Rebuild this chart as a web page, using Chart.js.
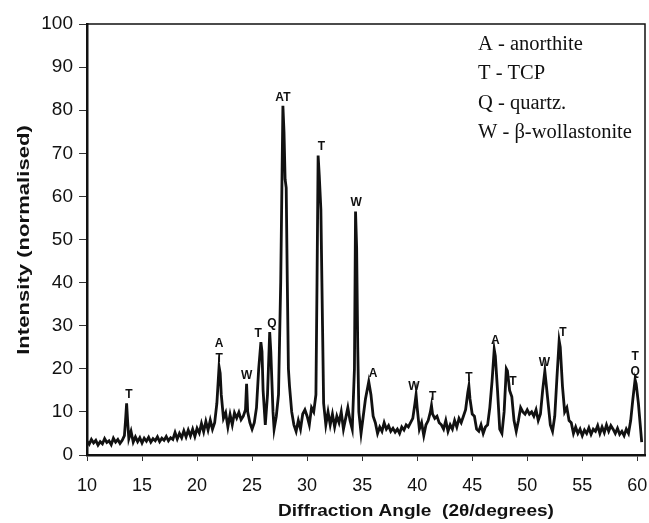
<!DOCTYPE html>
<html>
<head>
<meta charset="utf-8">
<title>XRD pattern</title>
<script src="https://cdn.jsdelivr.net/npm/chart.js@4"></script>
<style>
  body { margin: 0; background: #fff; }
  canvas { display: block; }
</style>
</head>
<body>
<canvas id="xrd" width="649" height="523"></canvas>
<script>
// 2θ (degrees) and normalised intensity
const angle = [
  10.0, 10.2, 10.4, 10.6, 10.8, 11.0, 11.2, 11.4, 11.6, 11.8,
  12.0, 12.2, 12.4, 12.6, 12.8, 13.0, 13.2, 13.4, 13.5, 13.6,
  13.7, 13.8, 14.0, 14.2, 14.4, 14.6, 14.8, 15.0, 15.2, 15.4,
  15.6, 15.8, 16.0, 16.2, 16.4, 16.6, 16.8, 17.0, 17.2, 17.4,
  17.6, 17.8, 18.0, 18.2, 18.4, 18.6, 18.8, 19.0, 19.2, 19.4,
  19.6, 19.8, 20.0, 20.2, 20.4, 20.6, 20.8, 21.0, 21.2, 21.4,
  21.6, 21.8, 22.0, 22.1, 22.2, 22.4, 22.6, 22.8, 23.0, 23.2,
  23.4, 23.6, 23.8, 24.0, 24.2, 24.4, 24.5, 24.6, 24.8, 25.0,
  25.2, 25.4, 25.6, 25.8, 25.9, 26.0, 26.2, 26.4, 26.6, 26.7,
  26.9, 27.0, 27.2, 27.4, 27.6, 27.8, 27.9, 28.0, 28.1, 28.2,
  28.3, 28.4, 28.6, 28.8, 29.0, 29.2, 29.4, 29.6, 29.8, 30.0,
  30.2, 30.4, 30.6, 30.8, 30.9, 31.0, 31.1, 31.25, 31.4, 31.5,
  31.7, 31.9, 32.1, 32.3, 32.5, 32.7, 32.9, 33.1, 33.3, 33.5,
  33.7, 33.9, 34.1, 34.3, 34.4, 34.5, 34.6, 34.7, 34.9, 35.1,
  35.3, 35.6, 35.8, 36.0, 36.2, 36.4, 36.6, 36.8, 37.0, 37.2,
  37.4, 37.6, 37.8, 38.0, 38.2, 38.4, 38.6, 38.8, 39.0, 39.2,
  39.4, 39.6, 39.8, 39.9, 40.0, 40.2, 40.4, 40.6, 40.8, 41.0,
  41.2, 41.3, 41.4, 41.6, 41.8, 42.0, 42.2, 42.4, 42.6, 42.8,
  43.0, 43.2, 43.4, 43.6, 43.8, 44.0, 44.2, 44.4, 44.6, 44.7,
  44.8, 45.0, 45.2, 45.4, 45.6, 45.8, 46.0, 46.2, 46.4, 46.6,
  46.8, 47.0, 47.1, 47.3, 47.5, 47.7, 47.9, 48.1, 48.2, 48.4,
  48.6, 48.8, 49.0, 49.2, 49.4, 49.6, 49.8, 50.0, 50.2, 50.4,
  50.6, 50.8, 51.0, 51.2, 51.4, 51.6, 51.7, 51.9, 52.1, 52.3,
  52.5, 52.7, 52.9, 53.0, 53.2, 53.4, 53.6, 53.8, 54.0, 54.2,
  54.4, 54.6, 54.8, 55.0, 55.2, 55.4, 55.6, 55.8, 56.0, 56.2,
  56.4, 56.6, 56.8, 57.0, 57.2, 57.4, 57.6, 57.8, 58.0, 58.2,
  58.4, 58.6, 58.8, 59.0, 59.2, 59.4, 59.6, 59.8, 59.9, 60.1,
  60.3, 60.4
];
const intensity = [
  3.2, 2.5, 3.6, 2.8, 3.4, 2.3, 3.1, 2.6, 3.8, 2.9,
  3.3, 2.4, 3.9, 3.0, 3.6, 2.7, 3.4, 4.5, 8.0, 12.0,
  7.5, 3.8, 5.5, 3.0, 4.2, 3.1, 4.0, 2.8, 3.9, 3.2,
  4.1, 3.0, 3.8, 3.3, 4.2, 3.1, 3.9, 3.4, 4.3, 3.3,
  4.0, 3.6, 5.2, 3.7, 5.0, 4.0, 5.6, 4.2, 5.8, 4.4,
  6.0, 4.3, 6.2, 5.1, 7.3, 5.4, 7.8, 5.8, 8.1, 6.0,
  7.5, 12.0, 20.5, 19.0, 14.0, 8.5, 9.8, 6.5, 9.4, 7.0,
  9.8, 8.6, 9.9, 8.2, 9.0, 10.5, 16.5, 10.0, 7.5, 6.0,
  7.5, 11.0, 20.0, 26.2, 24.0, 15.0, 7.0, 14.0, 28.5, 24.0,
  10.0, 6.0, 9.0, 14.0, 40.0, 81.0, 75.0, 64.0, 62.0, 40.0,
  20.0, 16.0, 10.0, 7.0, 5.5, 8.0, 6.0, 9.5, 10.5, 9.0,
  7.0, 11.0, 10.0, 14.0, 40.0, 69.5, 65.0, 57.0, 30.0, 12.0,
  7.0, 10.0, 7.0, 9.5, 6.5, 9.0, 7.5, 10.0, 6.0, 8.5,
  11.0, 8.0, 6.0, 20.0, 56.5, 48.0, 25.0, 10.0, 5.0, 9.0,
  13.0, 17.0, 14.0, 9.0, 7.5, 5.0, 6.5, 5.5, 7.5, 6.0,
  6.8, 5.5, 6.2, 5.3, 6.0, 5.0, 6.5, 5.8, 7.0, 6.5,
  7.5, 8.5, 12.0, 14.0, 11.0, 6.0, 7.5, 4.5, 7.0, 8.0,
  10.0, 11.5, 9.5, 8.5, 9.0, 7.5, 7.0, 6.0, 8.0, 5.5,
  7.0, 6.0, 8.0, 6.5, 8.5, 7.5, 9.0, 10.5, 14.5, 16.0,
  13.0, 9.5, 9.0, 6.0, 5.5, 7.0, 5.0, 6.5, 7.0, 11.0,
  17.0, 24.5, 23.0, 15.0, 6.0, 5.0, 10.0, 20.0, 19.5, 15.0,
  13.5, 8.0, 5.5, 8.0, 11.0, 10.0, 9.5, 10.5, 9.5, 10.0,
  9.0, 10.5, 8.0, 9.5, 15.0, 19.5, 17.0, 12.0, 7.0, 5.5,
  9.0, 18.0, 26.5, 25.0, 16.0, 10.0, 11.0, 8.0, 7.5, 5.0,
  6.5, 5.0, 6.0, 4.5, 5.8, 5.0, 6.3, 4.8, 6.0, 5.5,
  6.8, 5.0, 6.5, 5.2, 7.0, 5.5, 6.8, 6.0, 5.0, 6.2,
  4.8, 5.5, 4.5, 6.0, 5.0, 8.0, 13.0, 17.5, 16.5, 12.0,
  6.0, 3.0
];

// phase markers above the peaks
const peakAngles = [13.8, 22.0, 24.5, 25.55, 26.8, 27.8, 31.3, 34.45, 36.0,
  39.7, 41.4, 44.7, 47.1, 48.7, 51.55, 53.25, 59.8];
const peakLabels = ["T", "A\nT", "W", "T", "Q", "AT", "T", "W", "A",
  "W", "T", "T", "A", "T", "W", "T", "T\nQ"];

const legendLines = ["A - anorthite", "T - TCP", "Q - quartz.", "W - β-wollastonite"];

const xTicks = [10, 15, 20, 25, 30, 35, 40, 45, 50, 55, 60];
const yTicks = [0, 10, 20, 30, 40, 50, 60, 70, 80, 90, 100];

const xTitle = "Diffraction Angle  (2θ/degrees)";
const yTitle = "Intensity (normalised)";

const points = angle.map((a, i) => ({ x: a, y: intensity[i] }));

// 指定角度付近の最大強度
function peakHeight(at) {
  let best = 0;
  angle.forEach((a, i) => {
    if (Math.abs(a - at) <= 0.45 && intensity[i] > best) best = intensity[i];
  });
  return best;
}

const decorations = {
  id: "decorations",
  afterDraw(chart) {
    const { ctx, chartArea: area, scales } = chart;
    ctx.save();

    // frame (top and right sides)
    ctx.strokeStyle = "#111";
    ctx.lineWidth = 1.5;
    ctx.beginPath();
    ctx.moveTo(area.left, area.top);
    ctx.lineTo(area.right, area.top);
    ctx.lineTo(area.right, area.bottom);
    ctx.stroke();

    // peak letters
    ctx.fillStyle = "#111";
    ctx.font = "bold 12px 'Liberation Sans', Arial, sans-serif";
    ctx.textAlign = "center";
    ctx.textBaseline = "alphabetic";
    peakAngles.forEach((a, i) => {
      const px = scales.x.getPixelForValue(a);
      const top = scales.y.getPixelForValue(peakHeight(a));
      const lines = peakLabels[i].split("\n");
      lines.forEach((txt, j) => {
        const offset = (lines.length - 1 - j) * 15;
        ctx.fillText(txt, px, top - 5 - offset);
      });
    });

    // legend
    ctx.font = "20.5px 'Liberation Serif', 'Times New Roman', serif";
    ctx.textAlign = "left";
    legendLines.forEach((txt, i) => {
      ctx.fillText(txt, 478, 50 + i * 29.3);
    });

    // axis titles (the original lettering is stretched along the text)
    ctx.font = "bold 17px 'Liberation Sans', Arial, sans-serif";
    ctx.textAlign = "center";
    ctx.textBaseline = "middle";
    ctx.save();
    ctx.translate(416, 511);
    ctx.scale(1.12, 1);
    ctx.fillText(xTitle, 0, 0);
    ctx.restore();

    ctx.translate(24, 240);
    ctx.rotate(-Math.PI / 2);
    ctx.scale(1.3, 1);
    ctx.fillText(yTitle, 0, 0);

    ctx.restore();
  },
};

new Chart(document.getElementById("xrd"), {
  type: "line",
  data: {
    datasets: [{
      data: points,
      borderColor: "#111",
      borderWidth: 2.8,
      pointRadius: 0,
      tension: 0,
      fill: false,
    }],
  },
  options: {
    responsive: false,
    animation: false,
    layout: { padding: { top: 24, right: 4, left: 0, bottom: 0 } },
    plugins: {
      legend: { display: false },
      tooltip: { enabled: false },
    },
    scales: {
      x: {
        type: "linear",
        min: 10,
        max: 60.7,
        afterBuildTicks: s => { s.ticks = xTicks.map(v => ({ value: v })); },
        afterFit: s => { s.height = 68; s.paddingLeft = 0; s.paddingRight = 0; },
        ticks: {
          color: "#111",
          padding: 14,
          font: { family: "'Liberation Sans', Arial, sans-serif", size: 18 },
        },
        grid: { drawOnChartArea: false, tickLength: 6, color: "#333" },
        border: { color: "#111", width: 2.5 },
      },
      y: {
        min: 0,
        max: 100,
        afterBuildTicks: s => { s.ticks = yTicks.map(v => ({ value: v })); },
        afterFit: s => { s.width = 87; s.paddingTop = 0; s.paddingBottom = 0; },
        ticks: {
          color: "#111",
          padding: 6,
          font: { family: "'Liberation Sans', Arial, sans-serif", size: 19 },
        },
        grid: { drawOnChartArea: false, tickLength: 8, color: "#333" },
        border: { color: "#111", width: 2.5 },
      },
    },
  },
  plugins: [decorations],
});
</script>
</body>
</html>
